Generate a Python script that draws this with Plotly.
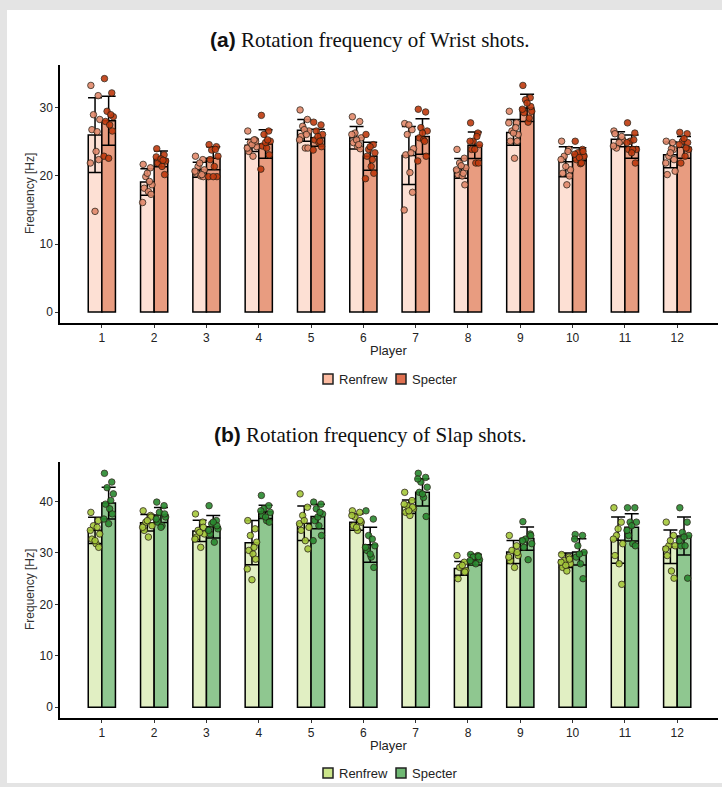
import plotly.graph_objects as go

# ---------------------------------------------------------------- data
players = list(range(1, 13))
player_labels = [str(p) for p in players]
series_names = ["Renfrew", "Specter"]

# Wrist shots: mean and SD of rotation frequency [Hz]
wrist_ren_mean = [26.0, 19.1, 20.9, 24.5, 26.7, 25.6, 23.0, 21.1, 26.4, 22.1, 25.4, 23.1]
wrist_ren_sd = [5.5, 1.95, 1.1, 0.9, 1.6, 1.65, 4.25, 1.45, 1.9, 2.2, 1.1, 1.9]
wrist_spe_mean = [28.1, 22.5, 22.6, 24.7, 25.6, 22.9, 25.8, 24.5, 30.0, 23.2, 24.3, 24.2]
wrist_spe_sd = [3.6, 1.15, 1.7, 2.1, 1.25, 2.05, 2.6, 1.95, 2.0, 0.95, 1.7, 1.6]

# Wrist shots: individual trials per player
wrist_ren_pts = [
    [33.3, 31.8, 29.0, 28.3, 26.8, 23.6, 22.4, 21.9, 14.8, 26.5],
    [21.7, 21.2, 19.9, 18.7, 18.2, 17.7, 17.3, 16.1, 20.4, 19.2],
    [22.9, 22.4, 21.4, 20.9, 20.4, 20.0, 19.9, 20.7, 21.9, 20.2],
    [26.6, 25.3, 24.9, 24.3, 23.6, 22.9, 25.1, 24.1, 24.6, 25.3],
    [29.7, 28.3, 27.3, 26.6, 25.8, 24.1, 24.1, 25.3, 26.8, 26.1],
    [28.7, 28.0, 26.3, 25.6, 24.9, 24.3, 24.0, 26.1, 25.3, 24.6],
    [27.7, 26.8, 26.1, 24.0, 23.1, 20.5, 17.6, 15.0, 27.5, 23.4],
    [23.9, 22.6, 21.9, 21.2, 20.2, 20.0, 18.7, 20.9, 21.5, 20.4],
    [29.5, 27.8, 26.6, 26.1, 25.1, 22.6, 25.1, 27.8, 26.3, 27.1],
    [25.1, 23.9, 22.9, 20.9, 20.4, 18.7, 20.0, 22.4, 21.4, 23.6],
    [26.6, 25.1, 24.1, 25.3, 26.2, 24.9, 25.8, 24.4],
    [25.1, 23.9, 22.9, 20.7, 20.2, 24.0, 22.4, 21.9, 23.4, 24.9],
]
wrist_spe_pts = [
    [34.3, 32.2, 29.5, 28.7, 28.0, 27.5, 26.6, 22.9, 22.6, 29.0],
    [24.0, 23.1, 22.4, 22.2, 21.9, 21.4, 20.2, 22.8, 22.5, 22.3],
    [24.6, 24.3, 23.8, 22.9, 22.4, 21.4, 19.9, 19.9, 19.9, 23.9],
    [28.9, 26.6, 26.1, 25.1, 24.4, 24.1, 23.1, 21.0, 24.9, 25.3],
    [27.9, 27.5, 26.6, 26.1, 25.3, 24.9, 24.3, 23.8, 25.8, 25.1],
    [26.1, 24.6, 23.9, 23.4, 22.9, 21.4, 20.4, 19.6, 24.3, 22.4],
    [29.8, 29.4, 27.1, 26.6, 25.6, 25.3, 22.9, 22.2, 26.3, 25.1],
    [27.8, 26.3, 25.1, 24.6, 23.9, 21.9, 21.9, 25.1, 23.9, 25.8],
    [33.3, 31.5, 31.2, 29.5, 29.3, 27.9, 30.2, 29.8, 30.7, 28.5],
    [25.1, 23.9, 23.4, 22.9, 22.4, 21.8, 23.6, 23.2, 22.7, 21.9],
    [27.8, 26.3, 25.1, 23.9, 23.9, 23.9, 21.9, 24.9, 23.4, 25.3],
    [26.4, 26.2, 25.1, 23.9, 21.9, 22.9, 24.9, 24.6, 25.5, 24.1],
]

# Slap shots: mean and SD of rotation frequency [Hz]
slap_ren_mean = [34.4, 35.9, 34.3, 32.0, 35.8, 36.0, 39.0, 27.0, 30.2, 28.6, 32.5, 31.2]
slap_ren_sd = [2.55, 1.6, 2.05, 4.3, 3.35, 1.6, 1.3, 1.35, 2.25, 1.4, 4.5, 3.25]
slap_spe_mean = [39.7, 37.4, 35.1, 38.0, 37.1, 31.6, 41.8, 28.7, 32.8, 30.2, 35.0, 33.3]
slap_spe_sd = [3.1, 1.45, 2.2, 1.3, 2.4, 3.4, 2.65, 1.05, 2.25, 2.55, 2.65, 3.7]

# Slap shots: individual trials per player
slap_ren_pts = [
    [37.9, 36.3, 35.3, 33.7, 32.7, 31.8, 31.1, 34.4, 32.4, 35.0],
    [38.2, 37.3, 36.0, 35.3, 34.4, 33.1, 37.0, 35.0, 36.3],
    [37.6, 36.0, 34.4, 33.7, 33.1, 31.1, 35.0, 32.7, 34.0],
    [36.3, 34.7, 33.4, 32.1, 30.5, 29.8, 28.8, 26.9, 24.8, 31.1],
    [41.5, 38.9, 37.3, 35.0, 34.4, 32.4, 30.8, 35.7, 36.3],
    [38.2, 37.9, 37.0, 36.0, 35.3, 34.4, 36.3, 37.3, 35.0],
    [41.8, 40.2, 39.2, 38.6, 37.9, 37.3, 38.9, 39.5, 38.2],
    [29.5, 28.2, 27.2, 26.6, 25.0, 27.6, 26.3],
    [33.4, 31.4, 30.5, 29.5, 28.5, 27.2, 30.1, 29.2],
    [29.7, 29.2, 28.5, 27.9, 27.2, 26.5, 28.8, 28.2, 27.6],
    [38.8, 36.0, 33.4, 31.8, 29.5, 27.9, 23.9, 32.7, 34.7],
    [36.0, 33.4, 31.4, 31.4, 29.5, 26.5, 25.1, 30.8, 32.4],
]
slap_spe_pts = [
    [45.5, 43.8, 42.7, 41.5, 39.5, 38.6, 37.6, 36.6, 35.7, 40.2],
    [39.9, 39.2, 37.9, 37.0, 36.0, 35.3, 37.6, 36.6, 35.0],
    [39.2, 36.3, 35.7, 34.7, 33.7, 32.1, 35.3, 34.4, 36.0],
    [41.2, 39.2, 38.6, 37.9, 37.3, 36.3, 36.0, 38.2, 37.0],
    [39.9, 39.5, 38.6, 37.6, 36.3, 35.3, 33.4, 32.4, 37.0, 37.9],
    [38.2, 36.6, 33.4, 31.4, 30.5, 29.2, 27.2, 31.1, 29.8, 32.7],
    [45.5, 44.7, 43.8, 42.8, 41.8, 40.8, 37.1, 44.4, 41.5],
    [29.7, 29.5, 29.2, 28.7, 28.2, 27.9, 29.3, 28.5],
    [36.1, 33.7, 32.7, 31.8, 31.1, 28.7, 33.4, 32.4],
    [33.6, 33.4, 31.4, 30.1, 29.2, 27.9, 25.0, 32.7, 29.8],
    [38.8, 38.8, 36.0, 36.0, 33.4, 31.8, 31.4, 34.4, 35.3],
    [38.8, 36.0, 34.0, 33.4, 31.4, 31.4, 25.1, 32.4, 33.1],
]

# ---------------------------------------------------------------- styling
W, H = 722, 787
BAR_W = 0.26
JITTER = [-0.08, 0.06, -0.03, 0.09, -0.06, 0.02, 0.07, -0.09, 0.0, 0.04]
SANS = "Liberation Sans"
SERIF = "Liberation Serif"
TXT = "#222222"

panels = [
    dict(xa="x", ya="y",
         title="<span style='font-family:Liberation Sans'><b>(a)</b></span> Rotation frequency of Wrist shots.",
         ren=(wrist_ren_mean, wrist_ren_sd, wrist_ren_pts),
         spe=(wrist_spe_mean, wrist_spe_sd, wrist_spe_pts),
         bar_fill=("#fde0d4", "#e89c80"),
         pt_fill=("#e2896b", "#bf3a0e"),
         legend_fill=("#fcbba1", "#e07050"),
         top=65, bottom=323, title_y=40, label_y=350, legend_y=379,
         yrange=[-1.6, 36.3], ticks=[0, 10, 20, 30]),
    dict(xa="x2", ya="y2",
         title="<span style='font-family:Liberation Sans'><b>(b)</b></span> Rotation frequency of Slap shots.",
         ren=(slap_ren_mean, slap_ren_sd, slap_ren_pts),
         spe=(slap_spe_mean, slap_spe_sd, slap_spe_pts),
         bar_fill=("#e1efc3", "#8fc790"),
         pt_fill=("#a5c83a", "#2a8a30"),
         legend_fill=("#cbe58a", "#6fb873"),
         top=462, bottom=718, title_y=435, label_y=745, legend_y=773,
         yrange=[-2.1, 47.7], ticks=[0, 10, 20, 30, 40]),
]

X_LEFT, X_RIGHT = 60, 718


def fx(p):
    return p / W


def fy(p):
    return 1 - p / H


fig = go.Figure()
shapes = [dict(type="rect", xref="paper", yref="paper", x0=fx(7), x1=1.0,
               y0=fy(783), y1=fy(10), fillcolor="white", line_width=0, layer="below")]
annotations = []

for i, pn in enumerate(panels):
    for k, (key, off) in enumerate([("ren", -BAR_W), ("spe", 0.0)]):
        mean, sd, pts = pn[key]
        fig.add_trace(go.Bar(
            x=players, y=mean, offset=off, width=BAR_W,
            xaxis=pn["xa"], yaxis=pn["ya"], showlegend=False,
            marker=dict(color=pn["bar_fill"][k], line=dict(color="black", width=1.5)),
            error_y=dict(type="data", array=sd, color="black", thickness=1.5, width=7),
        ))
    for k, (key, ctr) in enumerate([("ren", -BAR_W / 2), ("spe", BAR_W / 2)]):
        _, _, pts = pn[key]
        xs, ys = [], []
        for p, vals in zip(players, pts):
            for j, v in enumerate(vals):
                xs.append(p + ctr + JITTER[j % len(JITTER)])
                ys.append(v)
        fig.add_trace(go.Scatter(
            x=xs, y=ys, mode="markers", xaxis=pn["xa"], yaxis=pn["ya"], showlegend=False,
            marker=dict(size=6.5, color=pn["pt_fill"][k], opacity=0.9,
                        line=dict(color="rgba(40,30,20,0.85)", width=1)),
        ))

    sfx = "" if i == 0 else "2"
    fig.update_layout(**{
        "xaxis" + sfx: dict(
            domain=[fx(X_LEFT), fx(X_RIGHT)], anchor="y" + sfx, range=[0.2, 12.78],
            tickmode="array", tickvals=players, ticktext=player_labels,
            showline=True, linecolor="black", linewidth=1.5, ticks="outside",
            ticklen=3, tickcolor="#333", showgrid=False, zeroline=False,
            tickfont=dict(family=SANS, size=12, color=TXT)),
        "yaxis" + sfx: dict(
            domain=[fy(pn["bottom"]), fy(pn["top"])], anchor="x" + sfx, range=pn["yrange"],
            tickmode="array", tickvals=pn["ticks"],
            showline=True, linecolor="black", linewidth=1.5, ticks="outside",
            ticklen=3, tickcolor="#333", showgrid=False, zeroline=False,
            tickfont=dict(family=SANS, size=12, color=TXT)),
    })

    annotations.append(dict(xref="paper", yref="paper", x=fx(370), y=fy(pn["title_y"]),
                            text=pn["title"], showarrow=False, xanchor="center", yanchor="middle",
                            font=dict(family=SERIF, size=21, color="#111")))
    annotations.append(dict(xref="paper", yref="paper", x=fx(389), y=fy(pn["label_y"]),
                            text="Player", showarrow=False, xanchor="center", yanchor="middle",
                            font=dict(family=SANS, size=13, color=TXT)))
    annotations.append(dict(xref="paper", yref="paper", x=fx(30),
                            y=fy((pn["top"] + pn["bottom"]) / 2), text="Frequency [Hz]",
                            textangle=-90, showarrow=False, xanchor="center", yanchor="middle",
                            font=dict(family=SANS, size=12, color="#333")))

    # legend: swatch + label for each series
    ly = pn["legend_y"]
    for k, (sx, tx) in enumerate([(323, 337), (396, 410)]):
        shapes.append(dict(type="rect", xref="paper", yref="paper",
                           x0=fx(sx), x1=fx(sx + 10), y0=fy(ly + 5), y1=fy(ly - 5),
                           fillcolor=pn["legend_fill"][k], line=dict(color="#222", width=1.5)))
        annotations.append(dict(xref="paper", yref="paper", x=fx(tx), y=fy(ly),
                                text=series_names[k], showarrow=False, xanchor="left",
                                yanchor="middle", font=dict(family=SANS, size=13, color=TXT)))

fig.update_layout(
    width=W, height=H, margin=dict(l=0, r=0, t=0, b=0),
    paper_bgcolor="#e4e4e4", plot_bgcolor="rgba(0,0,0,0)",
    barmode="overlay", showlegend=False,
    shapes=shapes, annotations=annotations,
)

fig.write_html("out.html")
